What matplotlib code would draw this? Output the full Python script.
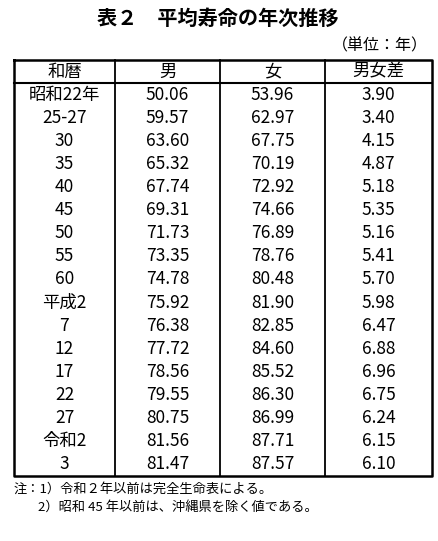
import matplotlib.pyplot as plt

plt.rcParams['font.family'] = ['Noto Sans CJK JP', 'DejaVu Sans']

# table data
eras = ['昭和22年', '25-27', '30', '35', '40', '45', '50', '55', '60',
        '平成2', '7', '12', '17', '22', '27', '令和2', '3']
male = [50.06, 59.57, 63.60, 65.32, 67.74, 69.31, 71.73, 73.35, 74.78,
        75.92, 76.38, 77.72, 78.56, 79.55, 80.75, 81.56, 81.47]
female = [53.96, 62.97, 67.75, 70.19, 72.92, 74.66, 76.89, 78.76, 80.48,
          81.90, 82.85, 84.60, 85.52, 86.30, 86.99, 87.71, 87.57]
diff = [3.90, 3.40, 4.15, 4.87, 5.18, 5.35, 5.16, 5.41, 5.70,
        5.98, 6.47, 6.88, 6.96, 6.75, 6.24, 6.15, 6.10]
headers = ['和暦', '男', '女', '男女差']

W, H = 438, 541
fig = plt.figure(figsize=(W / 100, H / 100), dpi=100)
ax = fig.add_axes([0, 0, 1, 1])
ax.set_xlim(0, W)
ax.set_ylim(H, 0)
ax.axis('off')

left, right, top, head_bot, bottom = 14, 432, 60, 83, 476
col_x = [left, 115, 220, 325, right]
row_h = (bottom - head_bot) / len(eras)

ax.text(218, 18, '表２　平均寿命の年次推移', ha='center', va='center',
        fontsize=14.5, fontweight='bold')
ax.text(428, 46, '（単位：年）', ha='right', va='center', fontsize=11.5)

ax.plot([left, right, right, left, left], [top, top, bottom, bottom, top],
        color='black', lw=1.8)
ax.plot([left, right], [head_bot, head_bot], color='black', lw=1.5)
for x in col_x[1:-1]:
    ax.plot([x, x], [top, bottom], color='black', lw=1.3)

fs = 12.5
centers = [(col_x[i] + col_x[i + 1]) / 2 for i in range(4)]
for c, h in zip(centers, headers):
    ax.text(c, (top + head_bot) / 2, h, ha='center', va='center', fontsize=fs)

for i in range(len(eras)):
    y = head_bot + row_h * (i + 0.5)
    ax.text(centers[0], y, eras[i], ha='center', va='center', fontsize=fs)
    ax.text(centers[1], y, f'{male[i]:.2f}', ha='center', va='center', fontsize=fs)
    ax.text(centers[2], y, f'{female[i]:.2f}', ha='center', va='center', fontsize=fs)
    ax.text(centers[3], y, f'{diff[i]:.2f}', ha='center', va='center', fontsize=fs)

ax.text(14, 489, '注：1）令和２年以前は完全生命表による。', ha='left', va='center', fontsize=9.5)
ax.text(38, 507, '2）昭和 45 年以前は、沖縄県を除く値である。', ha='left', va='center', fontsize=9.5)

fig.savefig('out.png', dpi=100)
